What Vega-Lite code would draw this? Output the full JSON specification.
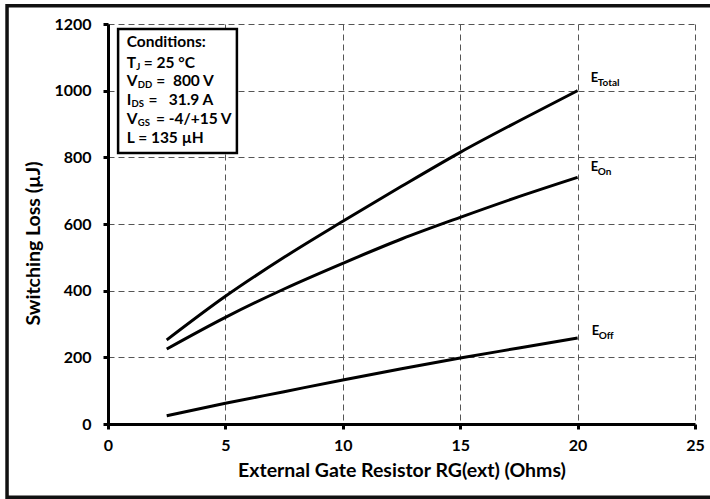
{
  "$schema": "https://vega.github.io/schema/vega-lite/v6.json",
  "width": 587,
  "height": 400,
  "autosize": "none",
  "padding": {"left": 108, "top": 24, "right": 15, "bottom": 75},
  "background": "white",
  "config": {
    "view": {"stroke": null},
    "font": "Lato",
    "axis": {
      "grid": true,
      "gridDash": [6, 4],
      "gridColor": "#555555",
      "gridWidth": 1,
      "gridOpacity": 1,
      "domainColor": "#000000",
      "domainWidth": 3,
      "tickColor": "#000000",
      "tickWidth": 3,
      "tickSize": 5,
      "labelFlush": false,
      "labelOverlap": false,
      "labelFont": "Lato",
      "labelFontSize": 16,
      "labelFontWeight": "bold",
      "labelColor": "#000000",
      "titleFont": "Lato",
      "titleFontSize": 19.5,
      "titleFontWeight": "bold",
      "titleColor": "#000000"
    }
  },
  "datasets": {
    "curves": [
      {"series": "Total", "R": 2.5, "E": 252},
      {"series": "Total", "R": 5, "E": 383},
      {"series": "Total", "R": 7.5, "E": 500},
      {"series": "Total", "R": 10, "E": 608},
      {"series": "Total", "R": 12.5, "E": 713},
      {"series": "Total", "R": 15, "E": 815},
      {"series": "Total", "R": 17.5, "E": 909},
      {"series": "Total", "R": 20, "E": 1000},
      {"series": "On", "R": 2.5, "E": 225},
      {"series": "On", "R": 5, "E": 320},
      {"series": "On", "R": 7.5, "E": 405},
      {"series": "On", "R": 10, "E": 482},
      {"series": "On", "R": 12.5, "E": 555},
      {"series": "On", "R": 15, "E": 620},
      {"series": "On", "R": 17.5, "E": 682},
      {"series": "On", "R": 20, "E": 740},
      {"series": "Off", "R": 2.5, "E": 25},
      {"series": "Off", "R": 5, "E": 62},
      {"series": "Off", "R": 7.5, "E": 97},
      {"series": "Off", "R": 10, "E": 132},
      {"series": "Off", "R": 12.5, "E": 166},
      {"series": "Off", "R": 15, "E": 198},
      {"series": "Off", "R": 17.5, "E": 228},
      {"series": "Off", "R": 20, "E": 258}
    ],
    "notes": [
      {"group": "cond", "part": "main", "text": "Conditions:", "R": 0.8, "E": 1146},
      {"group": "cond", "part": "main", "text": "T", "R": 0.8, "E": 1082},
      {"group": "cond", "part": "sub", "text": "J", "R": 1.2, "E": 1082},
      {"group": "cond", "part": "main", "text": "= 25 °C", "R": 1.52, "E": 1082},
      {"group": "cond", "part": "main", "text": "V", "R": 0.8, "E": 1029},
      {"group": "cond", "part": "sub", "text": "DD", "R": 1.27, "E": 1029},
      {"group": "cond", "part": "main", "text": "=\u00a0\u00a0800 V", "R": 2.06, "E": 1029},
      {"group": "cond", "part": "main", "text": "I", "R": 0.8, "E": 972},
      {"group": "cond", "part": "sub", "text": "DS", "R": 1.0, "E": 972},
      {"group": "cond", "part": "main", "text": "=\u00a0\u00a0\u00a031.9 A", "R": 1.72, "E": 972},
      {"group": "cond", "part": "main", "text": "V", "R": 0.8, "E": 915},
      {"group": "cond", "part": "sub", "text": "GS", "R": 1.27, "E": 915},
      {"group": "cond", "part": "main", "text": "= -4/+15 V", "R": 2.04, "E": 915},
      {"group": "cond", "part": "main", "text": "L = 135 µH", "R": 0.8, "E": 859},
      {"group": "curve", "part": "main", "text": "E", "R": 20.56, "E": 1037},
      {"group": "curve", "part": "sub", "text": "Total", "R": 20.86, "E": 1037},
      {"group": "curve", "part": "main", "text": "E", "R": 20.56, "E": 772},
      {"group": "curve", "part": "sub", "text": "On", "R": 20.86, "E": 772},
      {"group": "curve", "part": "main", "text": "E", "R": 20.6, "E": 279},
      {"group": "curve", "part": "sub", "text": "Off", "R": 20.9, "E": 279}
    ]
  },
  "layer": [
    {
      "data": {"values": [{}]},
      "mark": {"type": "rect", "fill": null, "stroke": "#111111", "strokeWidth": 3.5, "clip": false},
      "encoding": {
        "x": {"datum": -4.3, "type": "quantitative", "scale": {"domain": [0, 25], "nice": false}, "title": "External Gate Resistor RG(ext) (Ohms)"},
        "x2": {"datum": 26},
        "y": {"datum": 1255, "type": "quantitative", "scale": {"domain": [0, 1200], "nice": false}, "title": "Switching Loss (µJ)"},
        "y2": {"datum": -220}
      }
    },
    {
      "data": {"name": "curves"},
      "mark": {"type": "line", "interpolate": "monotone", "strokeWidth": 3, "color": "#000000"},
      "encoding": {
        "x": {
          "field": "R", "type": "quantitative",
          "scale": {"domain": [0, 25], "nice": false},
          "title": "External Gate Resistor RG(ext) (Ohms)",
          "axis": {"values": [0, 5, 10, 15, 20, 25], "labelPadding": 8, "titlePadding": 8}
        },
        "y": {
          "field": "E", "type": "quantitative",
          "scale": {"domain": [0, 1200], "nice": false},
          "title": "Switching Loss (µJ)",
          "axis": {"values": [0, 200, 400, 600, 800, 1000, 1200], "format": "d", "labelPadding": 12, "titleX": -75, "titleY": 219, "titleBaseline": "middle", "titleAlign": "center"}
        },
        "detail": {"field": "series"}
      }
    },
    {
      "data": {"values": [{}]},
      "mark": {"type": "rect", "fill": "#ffffff", "stroke": "#000000", "strokeWidth": 2.5},
      "encoding": {
        "x": {"datum": 0.43, "type": "quantitative", "title": "External Gate Resistor RG(ext) (Ohms)"},
        "x2": {"datum": 5.49},
        "y": {"datum": 1185, "type": "quantitative", "title": "Switching Loss (µJ)"},
        "y2": {"datum": 813}
      }
    },
    {
      "data": {"name": "notes"},
      "transform": [{"filter": "datum.group === 'cond' && datum.part === 'main'"}],
      "mark": {"type": "text", "align": "left", "baseline": "middle", "fontSize": 15.5, "fontWeight": "bold", "color": "#000000"},
      "encoding": {
        "x": {"field": "R", "type": "quantitative", "title": "External Gate Resistor RG(ext) (Ohms)"},
        "y": {"field": "E", "type": "quantitative", "title": "Switching Loss (µJ)"},
        "text": {"field": "text"}
      }
    },
    {
      "data": {"name": "notes"},
      "transform": [{"filter": "datum.group === 'cond' && datum.part === 'sub'"}],
      "mark": {"type": "text", "align": "left", "baseline": "middle", "fontSize": 9.5, "fontWeight": "bold", "color": "#000000", "dy": 4},
      "encoding": {
        "x": {"field": "R", "type": "quantitative", "title": "External Gate Resistor RG(ext) (Ohms)"},
        "y": {"field": "E", "type": "quantitative", "title": "Switching Loss (µJ)"},
        "text": {"field": "text"}
      }
    },
    {
      "data": {"name": "notes"},
      "transform": [{"filter": "datum.group === 'curve' && datum.part === 'main'"}],
      "mark": {"type": "text", "align": "left", "baseline": "middle", "fontSize": 13, "fontWeight": "bold", "color": "#000000"},
      "encoding": {
        "x": {"field": "R", "type": "quantitative", "title": "External Gate Resistor RG(ext) (Ohms)"},
        "y": {"field": "E", "type": "quantitative", "title": "Switching Loss (µJ)"},
        "text": {"field": "text"}
      }
    },
    {
      "data": {"name": "notes"},
      "transform": [{"filter": "datum.group === 'curve' && datum.part === 'sub'"}],
      "mark": {"type": "text", "align": "left", "baseline": "middle", "fontSize": 10, "fontWeight": "bold", "color": "#000000", "dy": 5},
      "encoding": {
        "x": {"field": "R", "type": "quantitative", "title": "External Gate Resistor RG(ext) (Ohms)"},
        "y": {"field": "E", "type": "quantitative", "title": "Switching Loss (µJ)"},
        "text": {"field": "text"}
      }
    }
  ]
}
